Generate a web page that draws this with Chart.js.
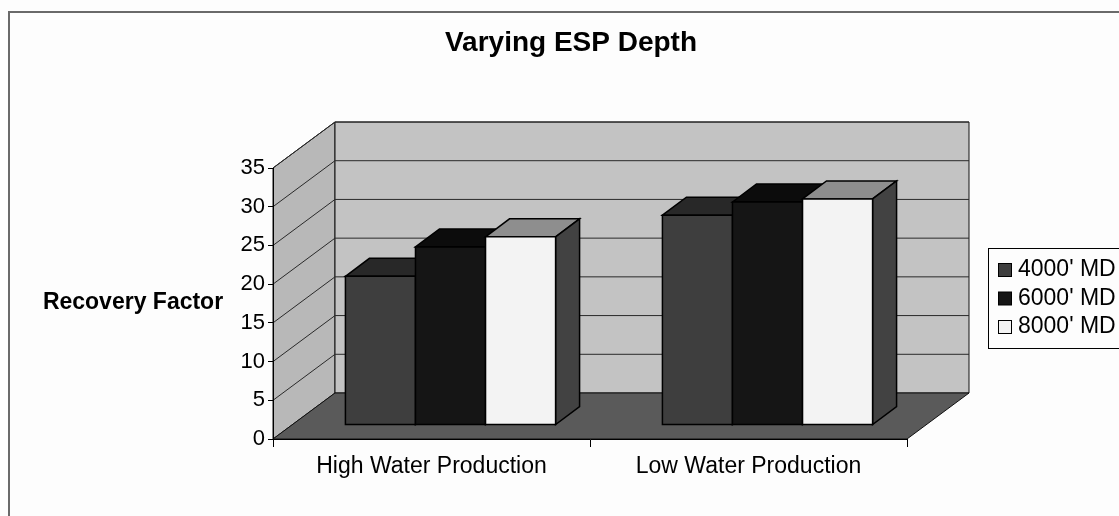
<!DOCTYPE html>
<html>
<head>
<meta charset="utf-8">
<script src="https://cdn.jsdelivr.net/npm/chart.js@4/dist/chart.umd.min.js"></script>
<style>
    html, body { margin: 0; padding: 0; background: #fdfdfd; overflow: hidden; }
    canvas { display: block; }
</style>
</head>
<body>
<canvas id="grafico" width="1119" height="516"></canvas>
<script>
// datos
const categorias = ['High Water Production', 'Low Water Production'];
const series = ["4000' MD", "6000' MD", "8000' MD"];
const md4000 = [19.2, 27.1];
const md6000 = [23.0, 28.8];
const md8000 = [24.3, 29.2];
const yMin = 0;
const yMax = 35;
const yPaso = 5;

// colores de cada serie: frente, tapa y lateral
const coloresBarra = [
    { front: '#3e3e3e', top: '#282828', side: '#2e2e2e' },
    { front: '#151515', top: '#0c0c0c', side: '#101010' },
    { front: '#f3f3f3', top: '#8e8e8e', side: '#424242' }
];

const FONT = '"Liberation Sans", Arial, sans-serif';
const PROF = { x: 62, y: -46 };       // profundidad de las paredes
const OFF_BARRA = { x: 19, y: -14 };  // plano frontal de las barras
const PROF_BARRA = { x: 24, y: -18 }; // profundidad de las barras

function poligono(ctx, pts, fill) {
    ctx.beginPath();
    ctx.moveTo(pts[0][0], pts[0][1]);
    for (let i = 1; i < pts.length; i++) ctx.lineTo(pts[i][0], pts[i][1]);
    ctx.closePath();
    ctx.fillStyle = fill;
    ctx.fill();
    ctx.stroke();
}

const plugin3d = {
    id: 'plugin3d',
    beforeDraw(chart) {
        const ctx = chart.ctx;
        const xs = chart.scales.x, ys = chart.scales.y;
        ctx.save();
        ctx.fillStyle = '#fdfdfd';
        ctx.fillRect(0, 0, chart.width, chart.height);

        // marco exterior
        ctx.strokeStyle = '#6a6a6a';
        ctx.lineWidth = 2;
        ctx.beginPath();
        ctx.moveTo(9, chart.height + 5);
        ctx.lineTo(9, 12);
        ctx.lineTo(chart.width + 5, 12);
        ctx.stroke();

        const L = xs.left, R = xs.right;
        const y0 = ys.getPixelForValue(yMin);
        const yT = ys.getPixelForValue(yMax);
        ctx.strokeStyle = '#111';
        ctx.lineWidth = 1;
        ctx.lineJoin = 'round';
        // pared izquierda
        poligono(ctx, [[L, yT], [L + PROF.x, yT + PROF.y], [L + PROF.x, y0 + PROF.y], [L, y0]], '#b8b8b8');
        // pared del fondo
        poligono(ctx, [[L + PROF.x, yT + PROF.y], [R + PROF.x, yT + PROF.y], [R + PROF.x, y0 + PROF.y], [L + PROF.x, y0 + PROF.y]], '#c3c3c3');
        // suelo
        poligono(ctx, [[L, y0], [R, y0], [R + PROF.x, y0 + PROF.y], [L + PROF.x, y0 + PROF.y]], '#5a5a5a');

        // líneas de división
        ctx.strokeStyle = '#2a2a2a';
        for (const t of ys.ticks) {
            if (t.value === yMin) continue;
            const y = ys.getPixelForValue(t.value);
            ctx.beginPath();
            ctx.moveTo(L, y);
            ctx.lineTo(L + PROF.x, y + PROF.y);
            ctx.lineTo(R + PROF.x, y + PROF.y);
            ctx.stroke();
        }
        ctx.restore();
    },
    beforeDatasetDraw() {
        return false; // las barras se dibujan en 3D abajo
    },
    afterDatasetsDraw(chart) {
        const ctx = chart.ctx;
        const nSeries = chart.data.datasets.length;
        ctx.save();
        ctx.strokeStyle = '#000';
        ctx.lineWidth = 1.5;
        ctx.lineJoin = 'miter';
        for (let c = 0; c < categorias.length; c++) {
            for (let s = 0; s < nSeries; s++) {
                const el = chart.getDatasetMeta(s).data[c];
                const col = coloresBarra[s];
                const x0 = el.x - el.width / 2 + OFF_BARRA.x;
                const x1 = el.x + el.width / 2 + OFF_BARRA.x;
                const yt = el.y + OFF_BARRA.y;
                const yb = el.base + OFF_BARRA.y;
                const dx = PROF_BARRA.x, dy = PROF_BARRA.y;
                poligono(ctx, [[x0, yt], [x0 + dx, yt + dy], [x1 + dx, yt + dy], [x1, yt]], col.top);
                poligono(ctx, [[x1, yt], [x1 + dx, yt + dy], [x1 + dx, yb + dy], [x1, yb]], col.side);
                poligono(ctx, [[x0, yt], [x1, yt], [x1, yb], [x0, yb]], col.front);
            }
        }
        ctx.restore();
    },
    afterDraw(chart) {
        const ctx = chart.ctx;
        ctx.save();
        ctx.fillStyle = '#000';
        // título
        ctx.font = 'bold 28px ' + FONT;
        ctx.textAlign = 'center';
        ctx.textBaseline = 'middle';
        ctx.fillText('Varying ESP Depth', 571, 43);
        // título del eje
        ctx.font = 'bold 23px ' + FONT;
        ctx.fillText('Recovery Factor', 133, 303);

        // leyenda
        const lx = 988, ly = 248;
        ctx.strokeStyle = '#000';
        ctx.lineWidth = 1;
        ctx.fillStyle = '#fdfdfd';
        ctx.fillRect(lx, ly, 200, 100);
        ctx.strokeRect(lx + 0.5, ly + 0.5, 200, 100);
        ctx.font = '23px ' + FONT;
        ctx.textAlign = 'left';
        chart.data.datasets.forEach((ds, i) => {
            const yc = 270 + i * 28.5;
            ctx.fillStyle = ds.backgroundColor;
            ctx.fillRect(998.5, yc - 6.5, 13, 13);
            ctx.strokeStyle = '#000';
            ctx.strokeRect(998.5, yc - 6.5, 13, 13);
            ctx.fillStyle = '#000';
            ctx.fillText(ds.label, 1018, yc);
        });
        ctx.restore();
    }
};

const datasets = [md4000, md6000, md8000].map((d, i) => ({
    label: series[i],
    data: d,
    backgroundColor: coloresBarra[i].front,
    borderColor: '#000',
    borderWidth: 1,
    categoryPercentage: 0.663,
    barPercentage: 1.0
}));

new Chart(document.getElementById('grafico'), {
    type: 'bar',
    data: { labels: categorias, datasets },
    options: {
        responsive: false,
        animation: false,
        events: [],
        layout: { padding: { left: 0, top: 168, right: 212, bottom: 37 } },
        plugins: {
            legend: { display: false },
            title: { display: false },
            tooltip: { enabled: false }
        },
        scales: {
            x: {
                offset: true,
                afterFit(scale) { scale.height = 40; },
                grid: { offset: true, drawOnChartArea: false, drawTicks: true, tickLength: 8, color: '#000' },
                border: { display: true, color: '#000', width: 1 },
                ticks: { color: '#000', font: { family: FONT, size: 23 }, padding: 6, maxRotation: 0, autoSkip: false }
            },
            y: {
                min: yMin,
                max: yMax,
                afterFit(scale) { scale.width = 273; },
                grid: { drawOnChartArea: false, drawTicks: true, tickLength: 5, color: '#000' },
                border: { display: true, color: '#000', width: 1 },
                ticks: { stepSize: yPaso, color: '#000', font: { family: FONT, size: 22 }, padding: 3 }
            }
        }
    },
    plugins: [plugin3d]
});
</script>
</body>
</html>
